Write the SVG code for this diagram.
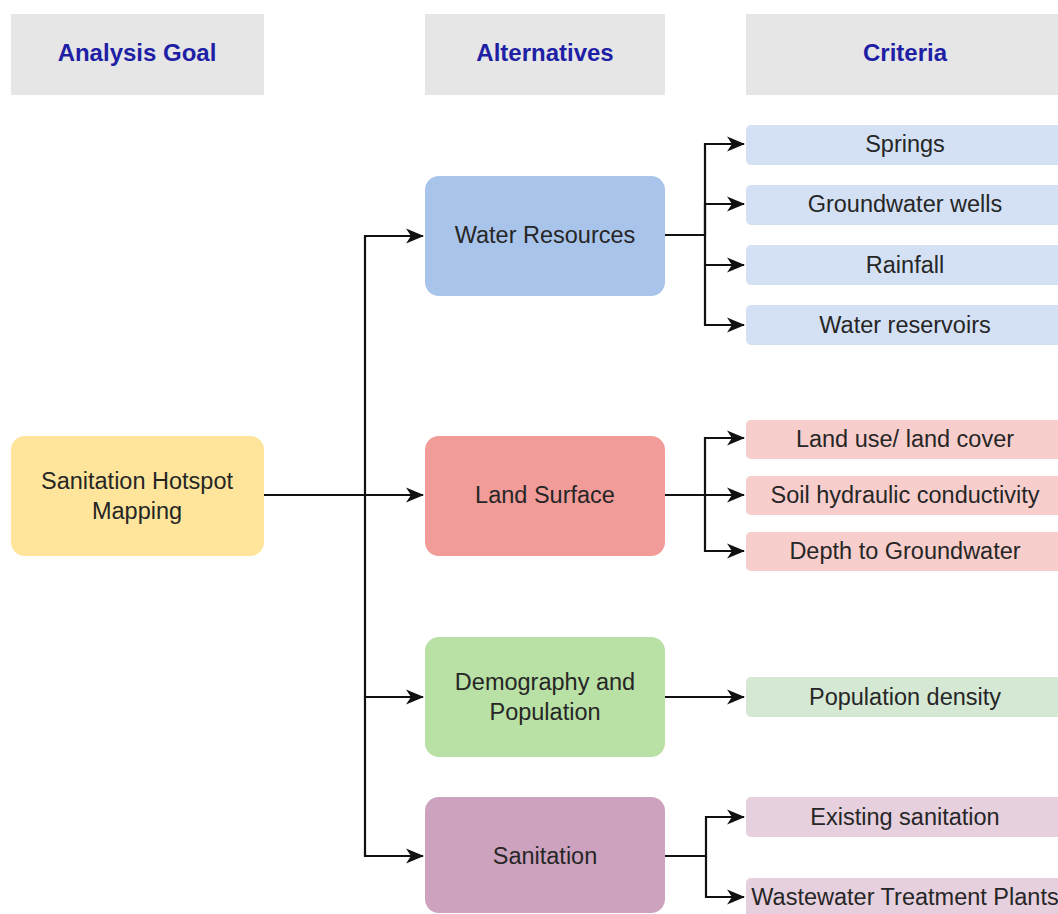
<svg xmlns="http://www.w3.org/2000/svg" width="1058" height="914" viewBox="0 0 1058 914">
<style>
.hdr{fill:#e6e6e6}
.ht{font-family:"Liberation Sans",Arial,sans-serif;font-size:24px;font-weight:bold;fill:#1f1fa5;text-anchor:middle}
.t{font-family:"Liberation Sans",Arial,sans-serif;font-size:23.5px;fill:#262626;text-anchor:middle}
.c{fill:none;stroke:#111;stroke-width:2.2}
</style>
<defs>
<marker id="ar" viewBox="0 0 18 18" refX="17" refY="9" markerWidth="18" markerHeight="18" markerUnits="userSpaceOnUse" orient="auto">
<path d="M0,1.5 L18,9 L0,16.5 L5,9 Z" fill="#111"/>
</marker>
</defs>
<rect width="1058" height="914" fill="#fff"/>
<g id="hdr-goal"><rect class="hdr" x="11" y="14" width="253" height="81"/><text class="ht" x="137" y="61">Analysis Goal</text></g>
<g id="hdr-alt"><rect class="hdr" x="425" y="14" width="240" height="81"/><text class="ht" x="545" y="61">Alternatives</text></g>
<g id="hdr-crit"><rect class="hdr" x="746" y="14" width="320" height="81"/><text class="ht" x="905" y="61">Criteria</text></g>

<g id="goal"><rect x="11" y="436" width="253" height="120" rx="14" fill="#fee59b"/><text class="t" x="137" y="489">Sanitation Hotspot</text><text class="t" x="137" y="519">Mapping</text></g>

<g id="water"><rect x="425" y="176" width="240" height="120" rx="14" fill="#a9c4eb"/><text class="t" x="545" y="243">Water Resources</text></g>
<g id="land"><rect x="425" y="436" width="240" height="120" rx="14" fill="#f19c99"/><text class="t" x="545" y="503">Land Surface</text></g>
<g id="demo"><rect x="425" y="637" width="240" height="120" rx="14" fill="#b9e0a5"/><text class="t" x="545" y="690">Demography and</text><text class="t" x="545" y="720">Population</text></g>
<g id="sani"><rect x="425" y="797" width="240" height="116" rx="14" fill="#cda2be"/><text class="t" x="545" y="864">Sanitation</text></g>

<g id="springs"><rect x="746" y="125" width="320" height="40" rx="5" fill="#d4e1f5"/><text class="t" x="905" y="152">Springs</text></g>
<g id="wells"><rect x="746" y="185" width="320" height="40" rx="5" fill="#d4e1f5"/><text class="t" x="905" y="212">Groundwater wells</text></g>
<g id="rain"><rect x="746" y="245" width="320" height="40" rx="5" fill="#d4e1f5"/><text class="t" x="905" y="273">Rainfall</text></g>
<g id="resv"><rect x="746" y="305" width="320" height="40" rx="5" fill="#d4e1f5"/><text class="t" x="905" y="333">Water reservoirs</text></g>

<g id="lulc"><rect x="746" y="420" width="320" height="39" rx="5" fill="#f8cecc"/><text class="t" x="905" y="447">Land use/ land cover</text></g>
<g id="soil"><rect x="746" y="476" width="320" height="39" rx="5" fill="#f8cecc"/><text class="t" x="905" y="503">Soil hydraulic conductivity</text></g>
<g id="depth"><rect x="746" y="532" width="320" height="39" rx="5" fill="#f8cecc"/><text class="t" x="905" y="559">Depth to Groundwater</text></g>

<g id="popd"><rect x="746" y="677" width="320" height="40" rx="5" fill="#d5e8d4"/><text class="t" x="905" y="705">Population density</text></g>

<g id="exist"><rect x="746" y="797" width="320" height="40" rx="5" fill="#e6d0de"/><text class="t" x="905" y="825">Existing sanitation</text></g>
<g id="wwtp"><rect x="746" y="878" width="320" height="40" rx="5" fill="#e6d0de"/><text class="t" x="905" y="905">Wastewater Treatment Plants</text></g>

<g id="connectors">
<path class="c" d="M264,495 H423" marker-end="url(#ar)"/>
<path class="c" d="M365,495 V236 H423" marker-end="url(#ar)"/>
<path class="c" d="M365,495 V697 H423" marker-end="url(#ar)"/>
<path class="c" d="M365,697 V856 H423" marker-end="url(#ar)"/>

<path class="c" d="M665,235 H705 V144 H744" marker-end="url(#ar)"/>
<path class="c" d="M705,235 V204 H744" marker-end="url(#ar)"/>
<path class="c" d="M705,235 V265 H744" marker-end="url(#ar)"/>
<path class="c" d="M705,265 V325 H744" marker-end="url(#ar)"/>

<path class="c" d="M665,495 H744" marker-end="url(#ar)"/>
<path class="c" d="M705,495 V438 H744" marker-end="url(#ar)"/>
<path class="c" d="M705,495 V551 H744" marker-end="url(#ar)"/>

<path class="c" d="M665,697 H744" marker-end="url(#ar)"/>

<path class="c" d="M665,856 H706 V817 H744" marker-end="url(#ar)"/>
<path class="c" d="M706,856 V897 H744" marker-end="url(#ar)"/>
</g>
</svg>
